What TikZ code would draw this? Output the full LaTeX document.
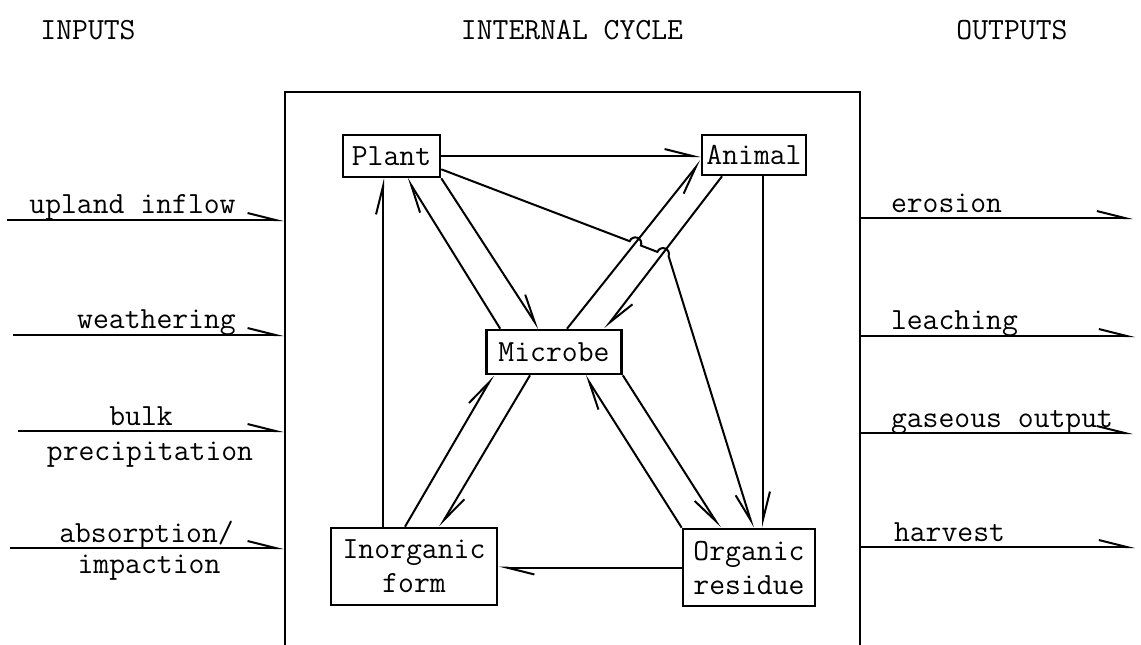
\documentclass[tikz,border=0pt]{standalone}
\usetikzlibrary{arrows.meta}
\newcommand\mytt{\fontsize{15.4}{17}\ttfamily}
\begin{document}
\begin{tikzpicture}[x=0.5pt,y=-0.5pt,line width=1pt,
  box/.style={draw,line width=1.3pt,inner sep=0pt,align=center,font=\mytt},
  lab/.style={inner sep=0pt,font=\mytt},
  L/.style={-{Straight Barb[harpoon,length=14pt,width=7pt]}},
  R/.style={-{Straight Barb[harpoon,swap,length=14pt,width=7pt]}}]
\useasboundingbox (0,0) rectangle (1141,644);
% headings
\node[lab] (hin) at (88,30) {INPUTS};
\node[lab] (hcyc) at (572,30) {INTERNAL CYCLE};
\node[lab] (hout) at (1012,30) {OUTPUTS};
% system box
\node[draw,line width=1.3pt,inner sep=0pt,minimum width=287.5pt,minimum height=310pt] (cycle) at (572.5,402) {};
% compartments
\node[box,minimum width=48.5pt,minimum height=21pt] (Plant) at (391.5,156) {Plant};
\node[box,minimum width=52pt,minimum height=20pt] (Animal) at (754,155) {Animal};
\node[box,minimum width=67.5pt,minimum height=22pt] (Microbe) at (554,352) {Microbe};
\node[box,minimum width=83pt,minimum height=38.5pt] (Inorg) at (414,566.5) {Inorganic\\form};
\node[box,minimum width=66pt,minimum height=38.5pt] (Residue) at (749,567.5) {Organic\\residue};
% internal flows
\draw[L] (Plant.east) -- (Plant.east -| Animal.west);
\coordinate (h1s) at (629.7,241.2);
\coordinate (h2s) at (657.4,251.9);
\draw[R] ([yshift=4.5pt]Plant.south east) -- (h1s)
  arc[start angle=158.9,end angle=-21.1,radius=3pt] -- (h2s)
  arc[start angle=158.9,end angle=-21.1,radius=3pt] -- ([xshift=2pt]Residue.north);
\draw[L] ([xshift=4.5pt]Animal.south) -- ([xshift=4.5pt]Animal.south |- Residue.north);
\draw[L] ([xshift=-4.25pt]Plant.south |- Inorg.north) -- ([xshift=-4.25pt]Plant.south);
\draw[L] ([xshift=7.5pt]Microbe.north west) -- ([xshift=7.75pt]Plant.south);
\draw[L] (Plant.south east) -- ([xshift=-7.5pt]Microbe.north);
\draw[R] ([xshift=6.5pt]Microbe.north) -- ([yshift=-3pt]Animal.west);
\draw[L] ([xshift=-16pt]Animal.south) -- ([xshift=25.5pt]Microbe.north);
\draw[L] ([xshift=-4.5pt]Inorg.north) -- ([xshift=4pt]Microbe.south west);
\draw[L] ([xshift=-12pt]Microbe.south) -- ([xshift=13pt]Inorg.north);
\draw[L] (Residue.north west) -- ([xshift=15.5pt]Microbe.south);
\draw[R] (Microbe.south east) -- ([xshift=-14.5pt]Residue.north);
\draw[L] (Residue.west) -- (Residue.west -| Inorg.east);
% inputs
\coordinate (i1) at (7,220);
\coordinate (i2) at (13,335);
\coordinate (i3) at (18,431);
\coordinate (i4) at (10,548);
\draw[L] (i1) -- (i1 -| cycle.west);
\draw[L] (i2) -- (i2 -| cycle.west);
\draw[L] (i3) -- (i3 -| cycle.west);
\draw[L] (i4) -- (i4 -| cycle.west);
\node[lab,anchor=base] (t1) at (132.5,213) {upland inflow};
\node[lab,anchor=base] (t2) at (156.5,328) {weathering};
\node[lab,anchor=base] (t3a) at (141,425) {bulk};
\node[lab,anchor=base] (t3b) at (150,460) {precipitation};
\node[lab,anchor=base] (t4a) at (146.5,542) {absorption/};
\node[lab,anchor=base] (t4b) at (149,573) {impaction};
% outputs
\coordinate (o1) at (1133,218);
\coordinate (o2) at (1135,336);
\coordinate (o3) at (1133,433);
\coordinate (o4) at (1135,547);
\draw[L] (o1 -| cycle.east) -- (o1);
\draw[L] (o2 -| cycle.east) -- (o2);
\draw[L] (o3 -| cycle.east) -- (o3);
\draw[L] (o4 -| cycle.east) -- (o4);
\node[lab,anchor=base west] (u1) at (890,212) {erosion};
\node[lab,anchor=base west] (u2) at (890,329) {leaching};
\node[lab,anchor=base west] (u3) at (890,427) {gaseous output};
\node[lab,anchor=base west] (u4) at (893,541) {harvest};
\end{tikzpicture}
\end{document}
